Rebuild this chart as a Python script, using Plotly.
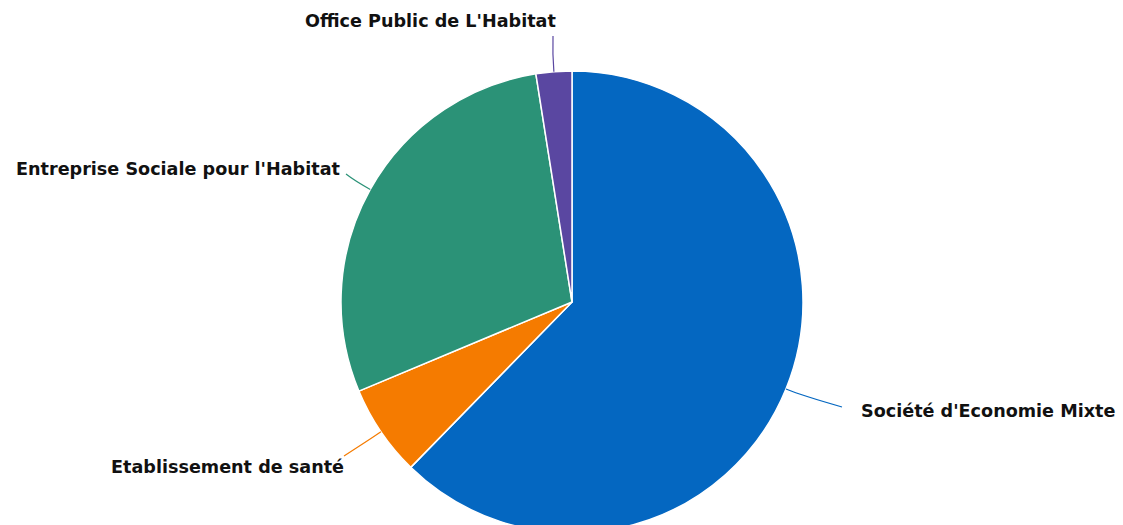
import math
import plotly.graph_objects as go

# Share of operators by category
labels = [
    "Société d'Economie Mixte",
    "Etablissement de santé",
    "Entreprise Sociale pour l'Habitat",
    "Office Public de L'Habitat",
]
values = [62.3, 6.4, 28.8, 2.5]
colors = ["#0467c1", "#f57b00", "#2b9277", "#5a47a1"]

# Canvas and pie geometry, in pixels
W, H = 1123, 540
CX, CY, R = 572, 302, 231

# Label placement: text anchor (px), horizontal alignment, connector end (px)
label_layout = [
    dict(x=859, y=411, align="left", end=(842, 407)),
    dict(x=346, y=467, align="right", end=(344, 456)),
    dict(x=342, y=169, align="right", end=(346, 174)),
    dict(x=558, y=21, align="right", end=(553, 36)),
]


def px(x, y):
    """Pixel position -> paper coordinates."""
    return x / W, 1 - y / H


fig = go.Figure(
    go.Pie(
        labels=labels,
        values=values,
        sort=False,
        direction="clockwise",
        rotation=0,
        marker=dict(colors=colors, line=dict(color="#ffffff", width=1.5)),
        textinfo="none",
        hoverinfo="label+percent",
        showlegend=False,
        domain=dict(
            x=[(CX - R) / W, (CX + R) / W],
            y=[1 - (CY + R) / H, 1 - (CY - R) / H],
        ),
    )
)

# Connectors start on the rim at each slice's mid-angle
total = sum(values)
acc = 0.0
shapes, annotations = [], []
for lab, val, col, lay in zip(labels, values, colors, label_layout):
    mid = (acc + val / 2) / total * 2 * math.pi
    acc += val
    dx, dy = math.sin(mid), -math.cos(mid)
    ex, ey = CX + R * dx, CY + R * dy
    cx_, cy_ = CX + (R + 18) * dx, CY + (R + 18) * dy
    x0, y0 = px(ex, ey)
    x1, y1 = px(cx_, cy_)
    x2, y2 = px(*lay["end"])
    shapes.append(
        dict(
            type="path",
            xref="paper",
            yref="paper",
            path=f"M {x0},{y0} Q {x1},{y1} {x2},{y2}",
            line=dict(color=col, width=1.2),
        )
    )
    ax, ay = px(lay["x"], lay["y"])
    annotations.append(
        dict(
            text=f"<b>{lab}</b>",
            x=ax,
            y=ay,
            xref="paper",
            yref="paper",
            xanchor=lay["align"],
            yanchor="middle",
            showarrow=False,
            font=dict(family="DejaVu Sans", size=17.6, color="#111111"),
        )
    )

fig.update_layout(
    width=W,
    height=H,
    margin=dict(l=0, r=0, t=0, b=0),
    paper_bgcolor="#ffffff",
    plot_bgcolor="#ffffff",
    shapes=shapes,
    annotations=annotations,
)

fig.write_html(
    "out.html",
    config={"displayModeBar": False},
    post_script="document.body.style.margin='0';document.body.style.overflow='hidden';",
)
